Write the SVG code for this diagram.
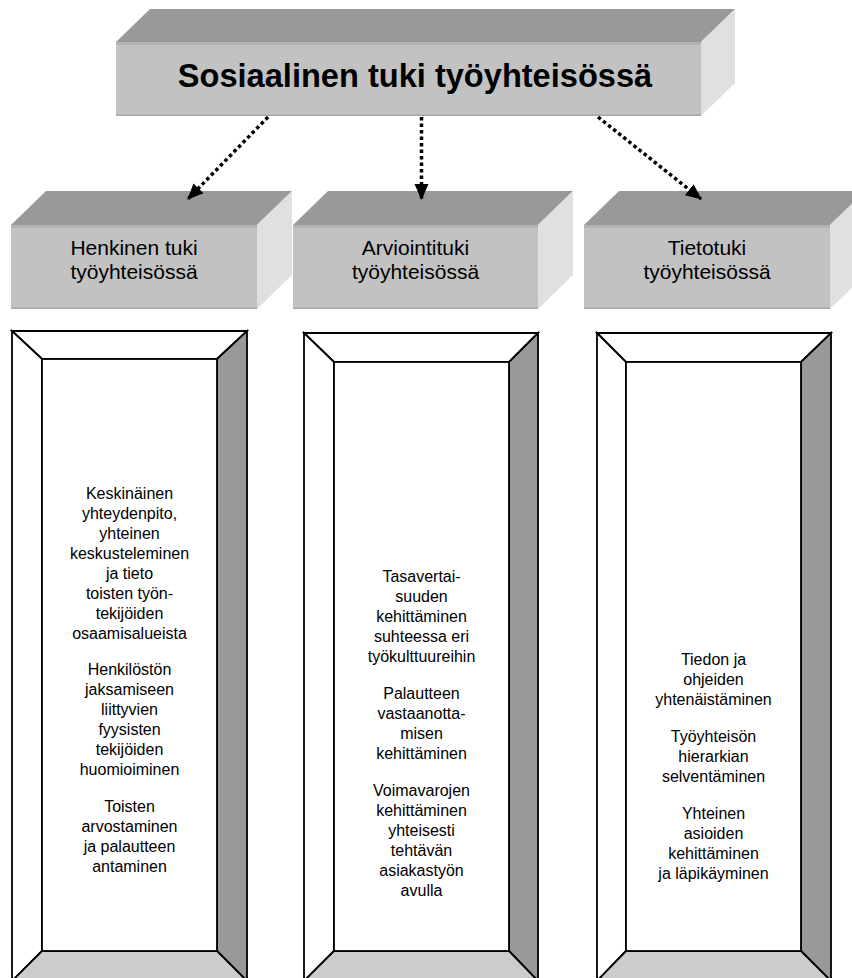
<svg xmlns="http://www.w3.org/2000/svg" width="852" height="978" viewBox="0 0 852 978">
  <defs>
    <style>
      .top { fill: #999999; }
      .front { fill: #c2c2c2; }
      .side { fill: #e0e0e0; }
      .edge-top { stroke: #b3b3b3; stroke-width: 3; fill: none; }
      .edge-bot { stroke: #a6a6a6; stroke-width: 1.5; fill: none; }
      .title { font-family: "Liberation Sans", Arial, sans-serif; font-weight: bold; font-size: 32.6px; fill: #000; text-anchor: middle; }
      .label { font-family: "Liberation Sans", Arial, sans-serif; font-size: 21px; fill: #000; text-anchor: middle; }
      .body { font-family: "Liberation Sans", Arial, sans-serif; font-size: 16px; fill: #000; text-anchor: middle; }
      .bevel { stroke: #000; stroke-width: 1.8; stroke-linejoin: miter; }
      .light { fill: #ffffff; }
      .dark { fill: #999999; }
      .mid { fill: #cccccc; }
      .link { stroke: #000; stroke-width: 3.5; stroke-dasharray: 3.5 3; fill: none; }
    </style>
    <marker id="head" markerUnits="userSpaceOnUse" markerWidth="16" markerHeight="16" viewBox="0 0 16 16" refX="15" refY="8" orient="auto">
      <path d="M0,1 L16,8 L0,15 Z" fill="#000"/>
    </marker>
  </defs>

  <!-- main heading block -->
  <g id="node-main">
    <polygon class="top" points="116,42 150,9 735,9 701,42"/>
    <polygon class="side" points="701,42 735,9 735,83 701,116"/>
    <rect class="front" x="116" y="42" width="585" height="74"/>
    <line class="edge-top" x1="116" y1="43.5" x2="701" y2="43.5"/>
    <line class="edge-bot" x1="116" y1="115.2" x2="701" y2="115.2"/>
    <text class="title" x="415" y="87">Sosiaalinen tuki työyhteisössä</text>
  </g>

  <!-- second level blocks -->
  <g id="node-henkinen">
    <polygon class="top" points="11,225 46,191 292,191 257,225"/>
    <polygon class="side" points="257,225 292,191 292,275 257,309"/>
    <rect class="front" x="11" y="225" width="246" height="84"/>
    <line class="edge-top" x1="11" y1="226.5" x2="257" y2="226.5"/>
    <line class="edge-bot" x1="11" y1="308.2" x2="257" y2="308.2"/>
    <text class="label" x="134" y="255">Henkinen tuki</text>
    <text class="label" x="134" y="279">työyhteisössä</text>
  </g>

  <g id="node-arviointi">
    <polygon class="top" points="293,225 328,191 573,191 538,225"/>
    <polygon class="side" points="538,225 573,191 573,275 538,309"/>
    <rect class="front" x="293" y="225" width="245" height="84"/>
    <line class="edge-top" x1="293" y1="226.5" x2="538" y2="226.5"/>
    <line class="edge-bot" x1="293" y1="308.2" x2="538" y2="308.2"/>
    <text class="label" x="415.5" y="255">Arviointituki</text>
    <text class="label" x="415.5" y="279">työyhteisössä</text>
  </g>

  <g id="node-tieto">
    <polygon class="top" points="584,225 619,191 865,191 830,225"/>
    <polygon class="side" points="830,225 865,191 865,275 830,309"/>
    <rect class="front" x="584" y="225" width="246" height="84"/>
    <line class="edge-top" x1="584" y1="226.5" x2="830" y2="226.5"/>
    <line class="edge-bot" x1="584" y1="308.2" x2="830" y2="308.2"/>
    <text class="label" x="707" y="255">Tietotuki</text>
    <text class="label" x="707" y="279">työyhteisössä</text>
  </g>

  <!-- connectors -->
  <g id="connectors">
    <line class="link" x1="268" y1="117" x2="188" y2="199" marker-end="url(#head)"/>
    <line class="link" x1="421.5" y1="117" x2="421.5" y2="199" marker-end="url(#head)"/>
    <line class="link" x1="598" y1="117" x2="701" y2="199" marker-end="url(#head)"/>
  </g>

  <!-- bevelled content frames -->
  <g id="frame-henkinen">
    <g class="bevel">
      <polygon class="light" points="12,331 247,331 217,359 42,359"/>
      <polygon class="light" points="12,331 42,359 42,951 12,981"/>
      <polygon class="dark" points="247,331 247,981 217,951 217,359"/>
      <polygon class="mid" points="12,981 42,951 217,951 247,981"/>
      <rect class="light" x="42" y="359" width="175" height="592"/>
    </g>
    <text class="body" x="129.5" y="499">Keskinäinen</text>
    <text class="body" x="129.5" y="519">yhteydenpito,</text>
    <text class="body" x="129.5" y="539">yhteinen</text>
    <text class="body" x="129.5" y="559">keskusteleminen</text>
    <text class="body" x="129.5" y="579">ja tieto</text>
    <text class="body" x="129.5" y="599">toisten työn-</text>
    <text class="body" x="129.5" y="619">tekijöiden</text>
    <text class="body" x="129.5" y="639">osaamisalueista</text>
    <text class="body" x="129.5" y="675">Henkilöstön</text>
    <text class="body" x="129.5" y="695">jaksamiseen</text>
    <text class="body" x="129.5" y="715">liittyvien</text>
    <text class="body" x="129.5" y="735">fyysisten</text>
    <text class="body" x="129.5" y="755">tekijöiden</text>
    <text class="body" x="129.5" y="775">huomioiminen</text>
    <text class="body" x="129.5" y="812">Toisten</text>
    <text class="body" x="129.5" y="832">arvostaminen</text>
    <text class="body" x="129.5" y="852">ja palautteen</text>
    <text class="body" x="129.5" y="872">antaminen</text>
  </g>

  <g id="frame-arviointi">
    <g class="bevel">
      <polygon class="light" points="304,333 538,333 509,362 334,362"/>
      <polygon class="light" points="304,333 334,362 334,951 304,981"/>
      <polygon class="dark" points="538,333 538,981 509,951 509,362"/>
      <polygon class="mid" points="304,981 334,951 509,951 538,981"/>
      <rect class="light" x="334" y="362" width="175" height="589"/>
    </g>
    <text class="body" x="421.5" y="582">Tasavertai-</text>
    <text class="body" x="421.5" y="602">suuden</text>
    <text class="body" x="421.5" y="622">kehittäminen</text>
    <text class="body" x="421.5" y="642">suhteessa eri</text>
    <text class="body" x="421.5" y="662">työkulttuureihin</text>
    <text class="body" x="421.5" y="699">Palautteen</text>
    <text class="body" x="421.5" y="719">vastaanotta-</text>
    <text class="body" x="421.5" y="739">misen</text>
    <text class="body" x="421.5" y="759">kehittäminen</text>
    <text class="body" x="421.5" y="796">Voimavarojen</text>
    <text class="body" x="421.5" y="816">kehittäminen</text>
    <text class="body" x="421.5" y="836">yhteisesti</text>
    <text class="body" x="421.5" y="856">tehtävän</text>
    <text class="body" x="421.5" y="876">asiakastyön</text>
    <text class="body" x="421.5" y="896">avulla</text>
  </g>

  <g id="frame-tieto">
    <g class="bevel">
      <polygon class="light" points="597,333 831,333 801,362 626,362"/>
      <polygon class="light" points="597,333 626,362 626,951 597,981"/>
      <polygon class="dark" points="831,333 831,981 801,951 801,362"/>
      <polygon class="mid" points="597,981 626,951 801,951 831,981"/>
      <rect class="light" x="626" y="362" width="175" height="589"/>
    </g>
    <text class="body" x="713.5" y="665">Tiedon ja</text>
    <text class="body" x="713.5" y="685">ohjeiden</text>
    <text class="body" x="713.5" y="705">yhtenäistäminen</text>
    <text class="body" x="713.5" y="742">Työyhteisön</text>
    <text class="body" x="713.5" y="762">hierarkian</text>
    <text class="body" x="713.5" y="782">selventäminen</text>
    <text class="body" x="713.5" y="819">Yhteinen</text>
    <text class="body" x="713.5" y="839">asioiden</text>
    <text class="body" x="713.5" y="859">kehittäminen</text>
    <text class="body" x="713.5" y="879">ja läpikäyminen</text>
  </g>
</svg>
